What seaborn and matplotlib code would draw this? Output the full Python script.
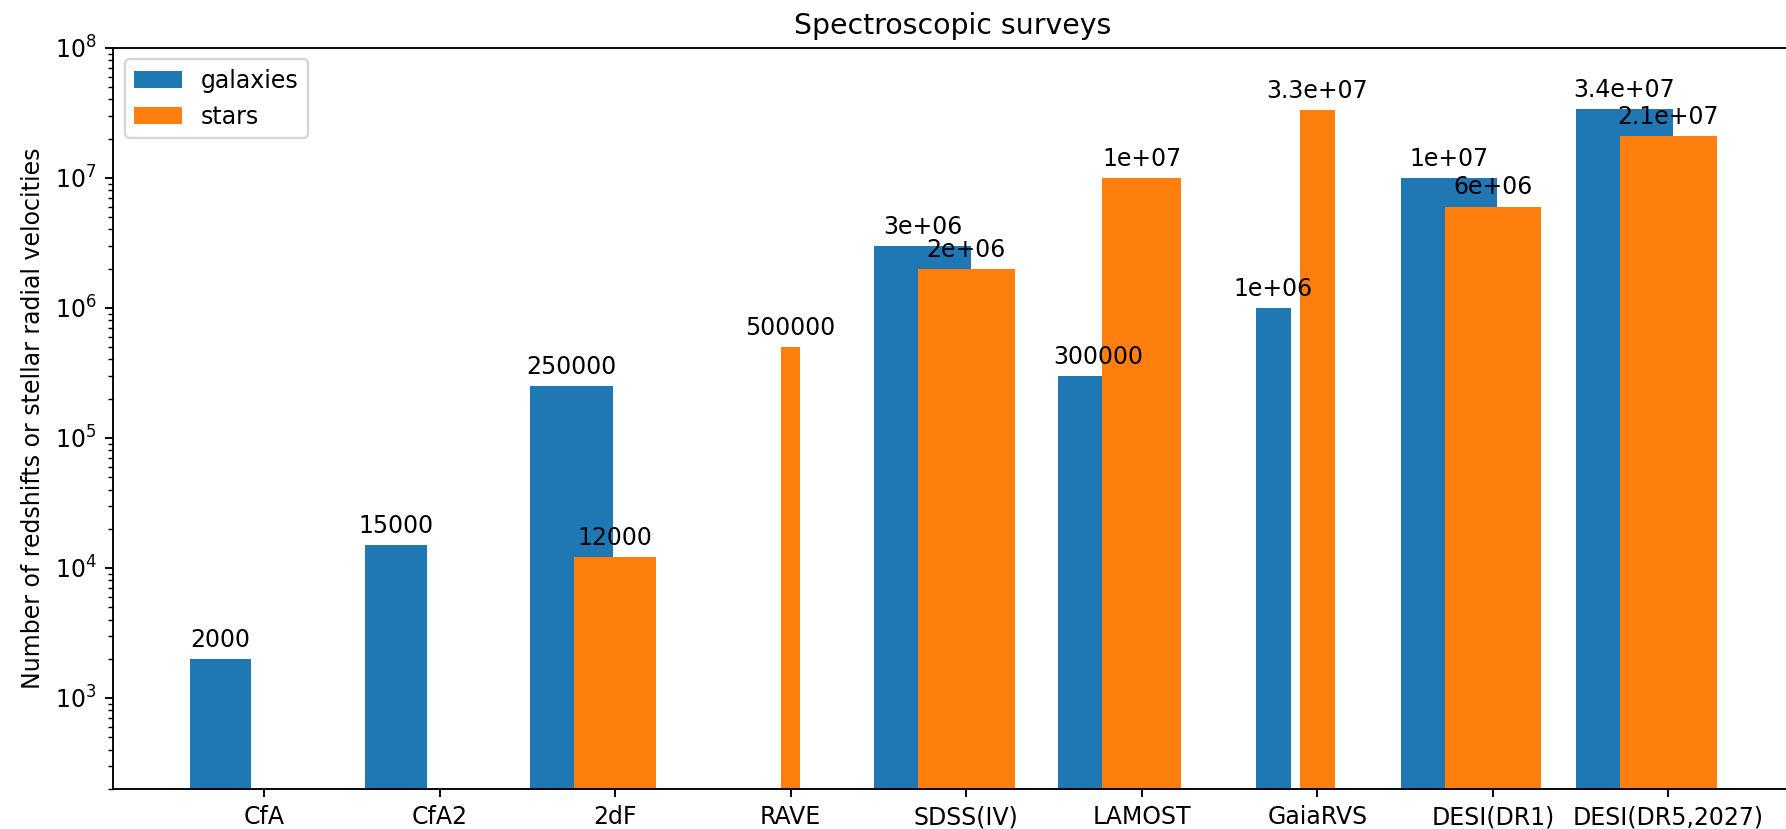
import numpy as np
import matplotlib
matplotlib.use("Agg")
import matplotlib.pyplot as plt
import seaborn as sns

# Survey sizes (number of spectra)
surveys = ["CfA", "CfA2", "2dF", "RAVE", "SDSS(IV)", "LAMOST",
           "GaiaRVS", "DESI(DR1)", "DESI(DR5,2027)"]
galaxies = [2000, 15000, 250000, 0, 3e6, 300000, 1e6, 1e7, 3.4e7]
stars = [0, 0, 12000, 500000, 2e6, 1e7, 3.3e7, 6e6, 2.1e7]
bar_widths = [0.35, 0.35, 0.47, 0.11, 0.55, 0.45, 0.2, 0.55, 0.55]

palette = sns.color_palette("tab10")
DPI = 170

fig = plt.figure(figsize=(1786 / DPI, 829 / DPI), dpi=DPI)
ax = fig.add_axes([0.0634, 0.0486, 0.9405, 0.8939])

x = np.arange(len(surveys))
gal_bars = ax.bar(x - 0.25, galaxies, width=bar_widths, color=palette[0],
                  label="galaxies")
ax.bar_label(gal_bars, labels=[f"{v:g}" if v > 0 else "" for v in galaxies],
             padding=3)
star_bars = ax.bar(x, stars, width=bar_widths, color=palette[1], label="stars")
ax.bar_label(star_bars, labels=[f"{v:g}" if v > 0 else "" for v in stars],
             padding=3)

ax.set_yscale("log")
ax.set_ylim(200, 1e8)
ax.set_xticks(x)
ax.set_xticklabels(surveys)
ax.set_ylabel("Number of redshifts or stellar radial velocities")
ax.set_title("Spectroscopic surveys")
ax.legend(loc="upper left")

fig.savefig("out.png", dpi=DPI)
